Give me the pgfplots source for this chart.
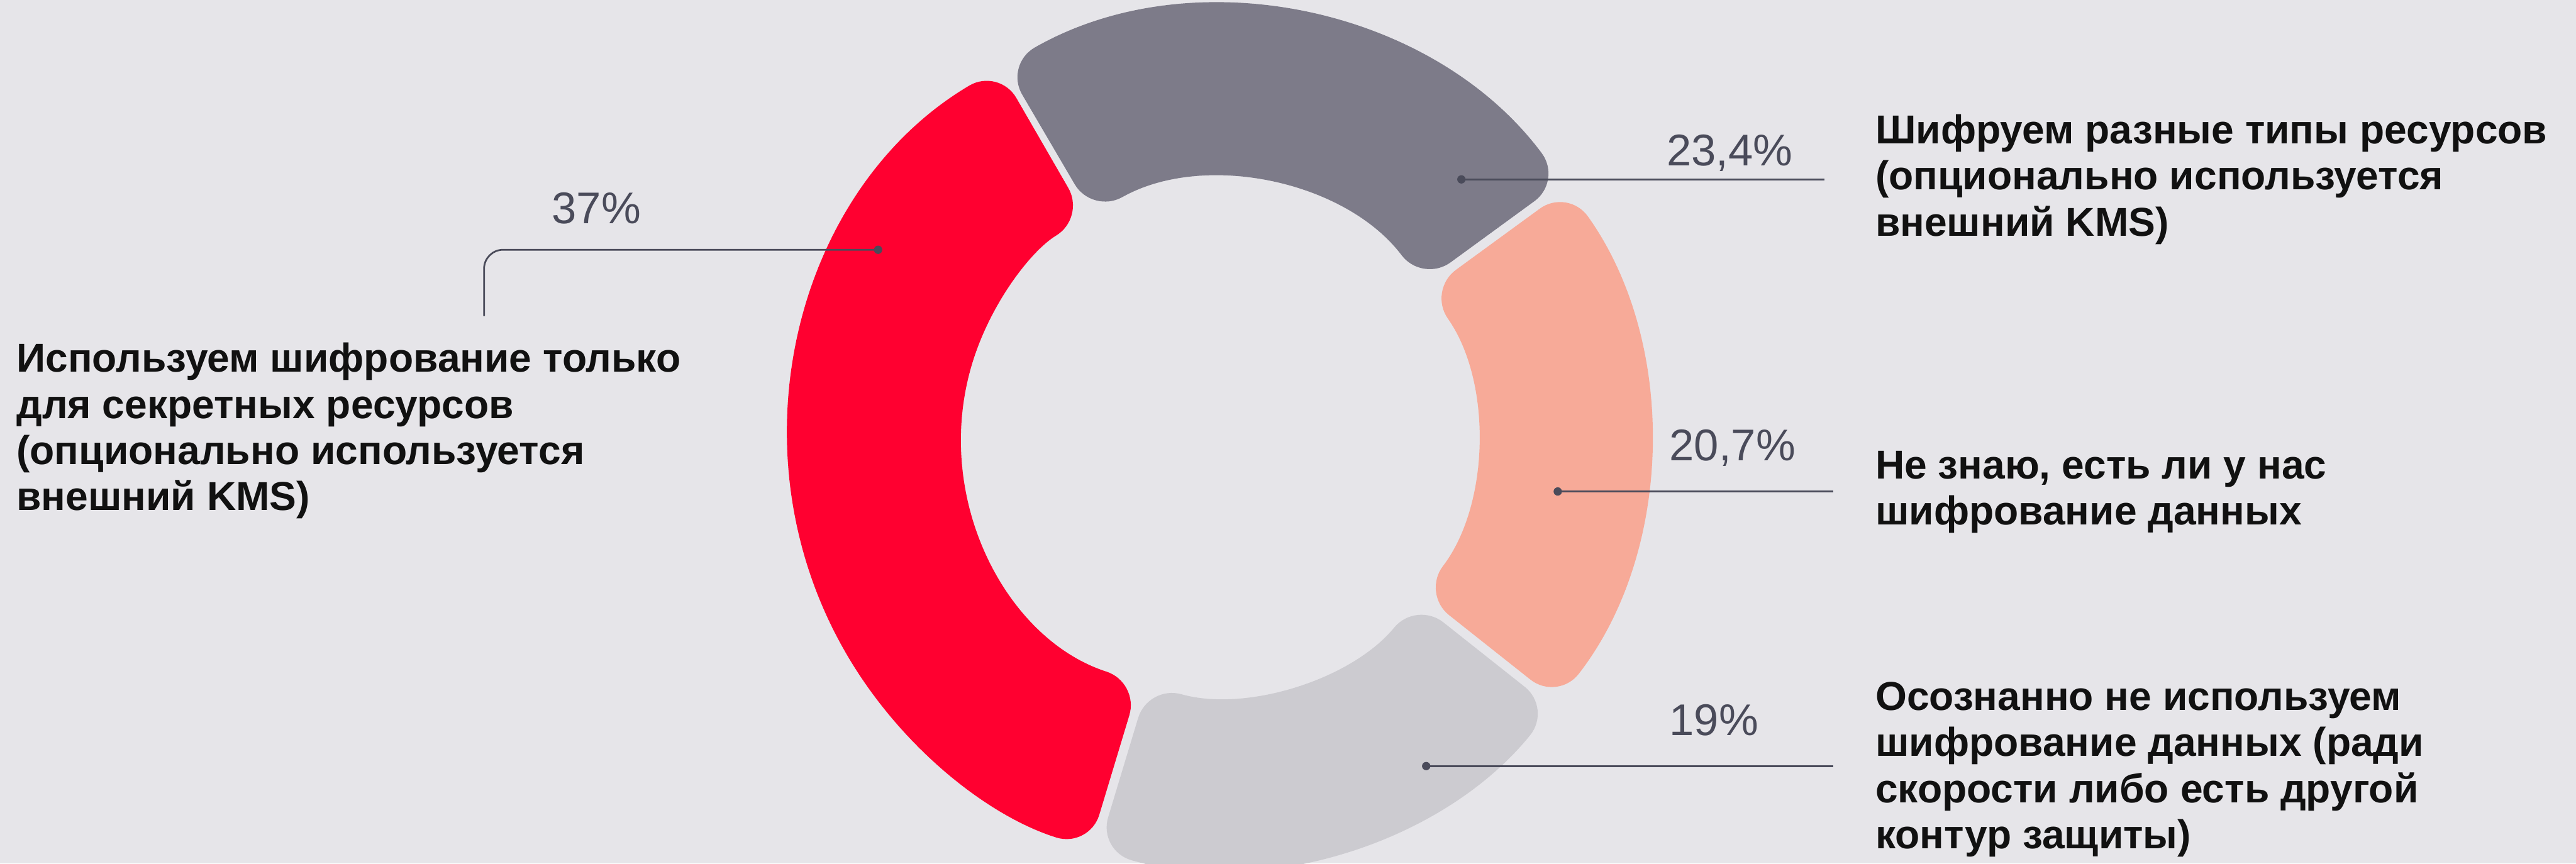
\documentclass[border=0pt]{standalone}
\usepackage{pgfplots}
\pgfplotsset{compat=1.18}
\usepackage{pgfplotstable}
\usepackage{fontspec}
\setmainfont{Liberation Sans}
\definecolor{bg}{HTML}{E6E5E9}
\definecolor{cRed}{HTML}{FF0030}
\definecolor{cGray}{HTML}{7D7B89}
\definecolor{cSalmon}{HTML}{F7AA98}
\definecolor{cLGray}{HTML}{CCCBD0}
\definecolor{lc}{HTML}{4A4B5A}
\definecolor{txt}{HTML}{111111}
\newcommand\lbl{\fontsize{19.9pt}{23pt}\selectfont\bfseries\color{txt}}
\newcommand\pct{\fontsize{21.9pt}{25pt}\selectfont\color{lc}}
% data (percent)
\def\vA{37}   % red
\def\vB{19}   % light gray
\def\vC{20.7} % salmon
\def\vD{23.4} % gray
\pgfmathsetmacro\aZ{120}
\pgfmathsetmacro\aA{\aZ+3.6*\vA}
\pgfmathsetmacro\aB{\aA+3.6*\vB}
\pgfmathsetmacro\aC{\aB+3.6*\vC}
\pgfmathsetmacro\aD{\aC+3.6*\vD}
\pgfmathsetmacro\Ro{74.5}
\pgfmathsetmacro\Ri{44.5}
\pgfmathsetmacro\go{0.8/\Ro*180/pi}
\pgfmathsetmacro\gi{0.8/\Ri*180/pi}
% precomputed segment angles: outer start/end, inner start/end
\newcommand\mk[3]{%
  \pgfmathsetmacro\tmpa{#1+\go}\expandafter\xdef\csname #3sO\endcsname{\tmpa}%
  \pgfmathsetmacro\tmpa{#2-\go}\expandafter\xdef\csname #3eO\endcsname{\tmpa}%
  \pgfmathsetmacro\tmpa{#1+\gi}\expandafter\xdef\csname #3sI\endcsname{\tmpa}%
  \pgfmathsetmacro\tmpa{#2-\gi}\expandafter\xdef\csname #3eI\endcsname{\tmpa}}
\mk{\aZ}{\aA}{SA}
\mk{\aA}{\aB}{SB}
\mk{\aB}{\aC}{SC}
\mk{\aC}{\aD}{SD}
\newcommand\seg[2]{%
  \fill[#2, rounded corners=6mm] (\csname #1sO\endcsname:\Ro mm)
    arc[start angle=\csname #1sO\endcsname, end angle=\csname #1eO\endcsname, radius=\Ro mm]
    -- (\csname #1eI\endcsname:\Ri mm)
    arc[start angle=\csname #1eI\endcsname, end angle=\csname #1sI\endcsname, radius=\Ri mm] -- cycle;}
\begin{document}
\begin{tikzpicture}
\begin{axis}[x=0.1mm, y=0.1mm, xmin=0, xmax=4465, ymin=0, ymax=1497,
  hide axis, scale only axis]
\fill[bg] (axis cs:0,0) rectangle (axis cs:4465,1497);
\begin{scope}[shift={(axis cs:2111,738)}]
\seg{SA}{cRed}
\seg{SB}{cLGray}
\seg{SC}{cSalmon}
\seg{SD}{cGray}
\end{scope}
% leaders
\addplot[lc, line width=0.3mm, rounded corners=3.3mm] coordinates {(1522,1064) (839,1064) (839,949)};
\addplot[lc, line width=0.3mm] coordinates {(2533,1186) (3162,1186)};
\addplot[lc, line width=0.3mm] coordinates {(2700,645) (3178,645)};
\addplot[lc, line width=0.3mm] coordinates {(2472,169) (3178,169)};
\addplot[lc, only marks, mark=*, mark size=0.65mm] coordinates {(1522,1064) (2533,1186) (2700,645) (2472,169)};
% percentages
\node[anchor=base west, inner sep=0, font=\pct] at (axis cs:956,1110) {37\%};
\node[anchor=base west, inner sep=0, font=\pct] at (axis cs:2888,1210) {23,4\%};
\node[anchor=base west, inner sep=0, font=\pct] at (axis cs:2893,698) {20,7\%};
\node[anchor=base west, inner sep=0, font=\pct] at (axis cs:2893,222) {19\%};
% labels
\node[anchor=base west, inner sep=0, font=\lbl] at (axis cs:28,852) {Используем шифрование только};
\node[anchor=base west, inner sep=0, font=\lbl] at (axis cs:28,772) {для секретных ресурсов};
\node[anchor=base west, inner sep=0, font=\lbl] at (axis cs:28,692) {(опционально используется};
\node[anchor=base west, inner sep=0, font=\lbl] at (axis cs:28,612) {внешний KMS)};
\node[anchor=base west, inner sep=0, font=\lbl] at (axis cs:3250,1248) {Шифруем разные типы ресурсов};
\node[anchor=base west, inner sep=0, font=\lbl] at (axis cs:3250,1168) {(опционально используется};
\node[anchor=base west, inner sep=0, font=\lbl] at (axis cs:3250,1088) {внешний KMS)};
\node[anchor=base west, inner sep=0, font=\lbl] at (axis cs:3250,667) {Не знаю, есть ли у нас};
\node[anchor=base west, inner sep=0, font=\lbl] at (axis cs:3250,587) {шифрование данных};
\node[anchor=base west, inner sep=0, font=\lbl] at (axis cs:3250,266) {Осознанно не используем};
\node[anchor=base west, inner sep=0, font=\lbl] at (axis cs:3250,186) {шифрование данных (ради};
\node[anchor=base west, inner sep=0, font=\lbl] at (axis cs:3250,106) {скорости либо есть другой};
\node[anchor=base west, inner sep=0, font=\lbl] at (axis cs:3250,26) {контур защиты)};
\end{axis}
\end{tikzpicture}
\end{document}
